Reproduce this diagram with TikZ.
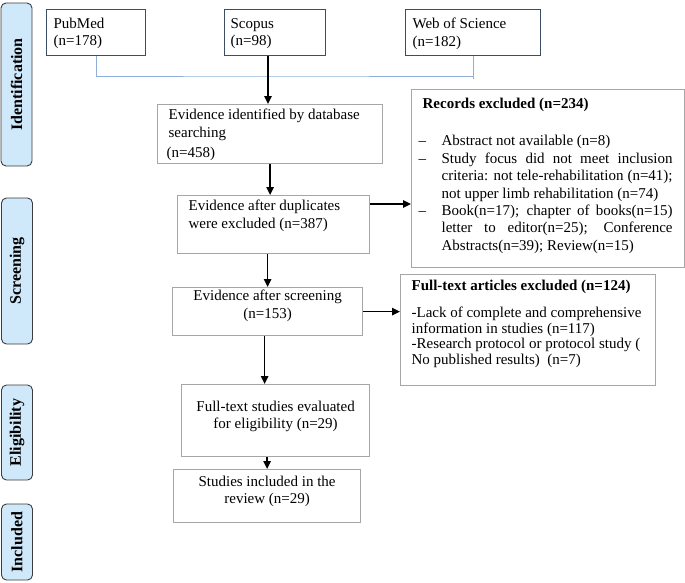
\documentclass[tikz,border=0pt]{standalone}
\usepackage{fontspec}
\setmainfont{Liberation Serif}
\usetikzlibrary{arrows.meta}
\definecolor{boxgray}{HTML}{A6A6A6}
\definecolor{dbline}{HTML}{3E4C66}
\definecolor{dbblue}{HTML}{8EB0DA}
\definecolor{stagefill}{HTML}{CFE8FA}
\definecolor{stageline}{HTML}{3C3C3C}
\newcommand{\inbox}[4]{\parbox[c][#2][t]{#1}{\vspace*{#3}#4}}
\newcommand{\exitem}{\par\hangindent = 23pt\hangafter = 1\noindent\makebox[23pt][l]{--}}
\begin{document}
\begin{tikzpicture}[x = 1pt, y = -1pt,
	box/.style = {draw = boxgray, line width = 1.2pt, inner sep = 0pt, anchor = north west, font = \fontsize{15}{17.4}\selectfont},
	dbbox/.style = {box, draw = dbline},
	stage/.style = {draw = stageline, fill = stagefill, rounded corners = 5pt, line width = 0.9pt, rotate = 90, minimum height = 31pt, inner sep = 0pt, font = \fontsize{16}{18}\selectfont\bfseries},
	arr/.style = {line width = 1.3pt, -{Triangle[length = 8pt, width = 7.5pt]}},
	dbjoin/.style = {draw = dbblue, line width = 1pt}]
	\useasboundingbox (0,0) rectangle (685,582);
	\node [stage, minimum width = 163pt] (labident) at (16.5,84.5) {Identification};
	\node [stage, minimum width = 146pt] (labscreen) at (17,271) {Screening};
	\node [stage, minimum width = 95pt] (labelig) at (17,432.5) {Eligibility};
	\node [stage, minimum width = 76pt] (labincl) at (17,542) {Included};
	\node [dbbox] (pubmed) at (46,9) {\inbox{99pt}{46pt}{8.5pt}{\raggedright\leftskip = 7pt PubMed\\(n=178)}};
	\node [dbbox] (scopus) at (224,9) {\inbox{101pt}{46pt}{8.5pt}{\raggedright\leftskip = 6pt Scopus\\(n=98)}};
	\node [dbbox] (wos) at (405,9) {\inbox{135pt}{46pt}{8.5pt}{\raggedright\leftskip = 7pt Web of Science\\(n=182)}};
	\node [box] (ident) at (157,104) {\inbox{225pt}{59pt}{4.5pt}{\raggedright\leftskip = 11pt Evidence identified by database\\searching\\[2.6pt]\hspace*{-2pt}(n=458)}};
	\node [box] (dup) at (177,195) {\inbox{192pt}{58pt}{4.5pt}{\raggedright\leftskip = 11pt Evidence after duplicates\\were excluded (n=387)}};
	\node [box] (screen) at (172,287) {\inbox{190pt}{48pt}{2.5pt}{\centering Evidence after screening\\(n=153)}};
	\node [box] (fts) at (181,384) {\inbox{188pt}{72pt}{16.5pt}{\centering Full-text studies evaluated\\for eligibility (n=29)}};
	\node [box] (incl) at (173,469) {\inbox{187pt}{53pt}{6.5pt}{\centering Studies included in the\\review (n=29)}};
	\node [box] (records) at (411,89) {\inbox{273pt}{178pt}{8.5pt}{\tolerance = 10000\hbadness = 10000\leftskip = 7pt\rightskip = 12pt
		\hspace*{4pt}\textbf{Records excluded (n=234)}\par\vspace{20pt}
		\exitem Abstract not available (n=8)
		\exitem Study focus did not meet inclusion\linebreak criteria: not tele-rehabilitation (n=41);\linebreak not upper limb rehabilitation (n=74)
		\exitem Book(n=17); chapter of books(n=15)\linebreak letter to editor(n=25); Conference\linebreak Abstracts(n=39); Review(n=15)}};
	\node [box] (ftexcl) at (400,274) {\inbox{255pt}{111pt}{5.5pt}{\fontsize{15}{15.5}\selectfont\raggedright\leftskip = 11pt
		\textbf{Full-text articles excluded (n=124)}\\[11.5pt]
		-Lack of complete and comprehensive\\information in studies (n=117)\\-Research protocol or protocol study (\\No published results)~~(n=7)}};
	\coordinate (joint) at (268,76);
	\draw [dbjoin] (pubmed.south) |- (joint) -| (wos.south);
	\draw [dbjoin] (joint -| wos.south) -- ++(0,3);
	\draw [arr] (scopus.south -| joint) -- (joint |- ident.north);
	\draw [arr] (ident.south) -- (ident.south |- dup.north);
	\draw [arr] (screen.north |- dup.south) -- (screen.north);
	\draw [arr] ([xshift = -3pt]screen.south) -- ([xshift = -3pt]screen.south |- fts.north);
	\draw [arr] (incl.north |- fts.south) -- (incl.north);
	\draw [arr] ([yshift = -9pt]dup.north east) -- ([yshift = -9pt]dup.north east -| records.west);
	\draw [arr] (screen.east) -- (screen.east -| ftexcl.west);
\end{tikzpicture}
\end{document}
